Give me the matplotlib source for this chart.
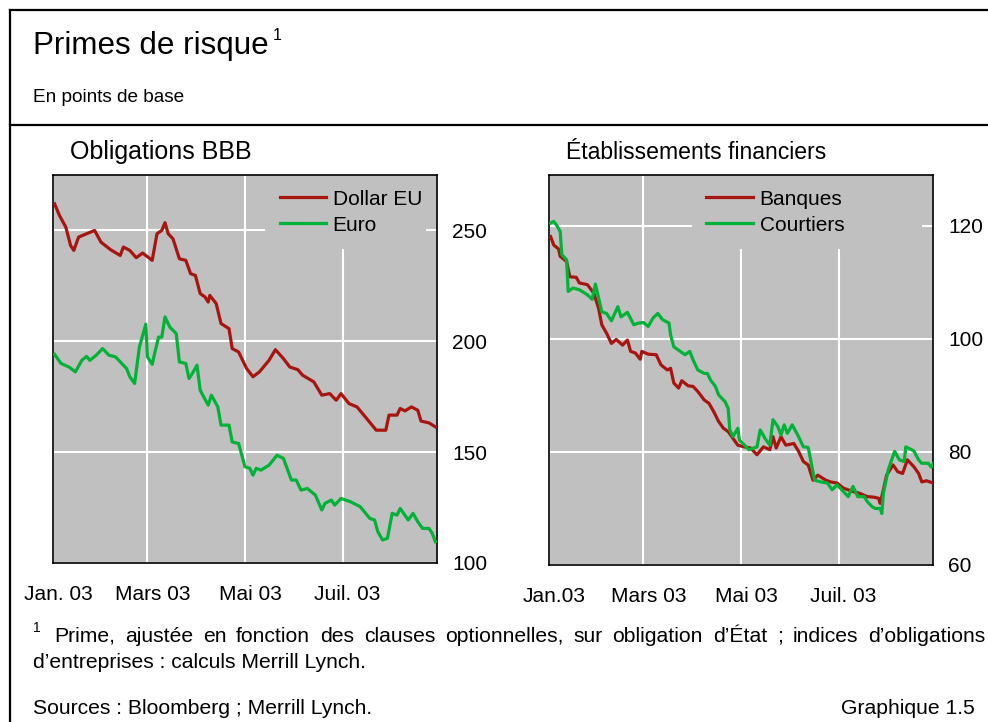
import numpy as np
import matplotlib
matplotlib.use("Agg")
import matplotlib.pyplot as plt
from matplotlib.lines import Line2D
from matplotlib.transforms import ScaledTranslation

plt.rcParams['font.family'] = ['Liberation Sans', 'DejaVu Sans']

# days counted from 1 Jan 2003
usd_days = [1, 4, 8, 11, 13, 16, 21, 26, 30, 36, 42, 44, 48, 52, 56, 62, 65, 68, 70, 72,
            75, 79, 83, 86, 89, 92, 95, 97, 98, 102, 105, 110, 112, 116, 121, 125, 129, 135, 139, 144,
            148, 153, 156, 163, 168, 173, 177, 180, 185, 190, 196, 202, 208, 210, 215, 217, 220, 224, 228, 230,
            235, 239]
usd_vals = [262.0, 256.8, 251.5, 243.2, 241.0, 247.0, 248.5, 250.0, 244.7, 241.3,
            238.7, 242.5, 241.0, 237.7, 239.8, 236.5, 248.5, 250.0, 253.5, 248.5,
            246.2, 237.2, 236.5, 230.5, 229.7, 221.5, 220.0, 217.7, 220.7, 217.0,
            208.0, 205.7, 196.7, 195.2, 187.7, 184.0, 186.2, 191.4, 196.2, 192.2,
            188.4, 187.2, 184.7, 181.7, 175.7, 176.4, 173.4, 176.4, 171.9, 170.4,
            165.2, 159.9, 159.9, 166.7, 166.7, 169.7, 168.6, 170.4, 168.9, 164.0,
            163.2, 161.4]

eur_days = [1, 5, 10, 14, 18, 21, 23, 27, 31, 35, 39, 43, 46, 48, 51, 54, 58, 59, 62, 64,
            66, 68, 70, 73, 77, 79, 83, 85, 87, 90, 92, 97, 99, 103, 105, 110, 112, 116, 120, 123,
            125, 127, 130, 135, 140, 144, 149, 152, 155, 159, 164, 168, 170, 174, 176, 180, 186, 192, 198, 201,
            203, 206, 209, 212, 215, 217, 222, 225, 228, 231, 235, 237, 239]
eur_vals = [194.1, 190.0, 188.4, 186.2, 191.4, 193.2, 191.4, 193.7, 196.7, 193.7,
            193.0, 190.0, 187.7, 184.0, 181.0, 197.4, 207.7, 193.0, 189.6, 196.0,
            201.9, 201.9, 211.0, 206.4, 203.5, 190.7, 190.0, 183.2, 185.4, 189.2,
            177.9, 171.2, 175.7, 170.4, 162.2, 162.2, 154.6, 153.9, 143.4, 142.7,
            139.6, 142.7, 141.9, 144.1, 148.6, 147.2, 137.4, 137.4, 132.9, 133.6,
            130.6, 123.9, 126.9, 128.4, 126.1, 129.1, 127.6, 125.4, 120.1, 119.4,
            114.1, 110.4, 111.1, 122.4, 121.6, 124.6, 119.4, 122.4, 118.6, 115.6,
            115.6, 113.4, 109.6]

bank_days = [1, 3, 6, 7, 11, 13, 17, 19, 24, 28, 31, 33, 36, 39, 42, 46, 49, 51, 54, 57,
             58, 62, 67, 70, 74, 76, 78, 81, 83, 87, 90, 93, 97, 100, 103, 106, 109, 112, 115, 118,
             122, 126, 130, 134, 138, 140, 142, 145, 148, 153, 156, 159, 162, 165, 168, 173, 176, 180, 184, 187,
             190, 194, 199, 203, 206, 207, 209, 211, 215, 218, 221, 224, 228, 231, 233, 236, 240]
bank_vals = [118.1, 116.6, 115.9, 114.6, 113.7, 111.0, 110.9, 109.9, 109.6, 108.1,
             105.4, 102.5, 101.0, 99.2, 99.9, 98.9, 99.8, 97.8, 97.5, 96.4,
             97.8, 97.3, 97.2, 95.4, 94.5, 94.8, 92.2, 91.3, 92.6, 91.7,
             91.6, 90.7, 89.2, 88.6, 87.1, 85.4, 84.2, 83.6, 82.4, 81.2,
             80.9, 80.7, 79.5, 80.9, 80.4, 82.7, 80.7, 82.7, 81.2, 81.5,
             80.1, 78.3, 77.7, 75.0, 75.9, 75.0, 74.7, 74.5, 73.6, 73.3,
             73.0, 72.7, 72.1, 72.0, 71.8, 70.9, 73.3, 75.9, 77.7, 76.5,
             76.2, 78.6, 77.4, 76.2, 74.7, 74.9, 74.5]

brok_days = [1, 3, 5, 7, 8, 11, 12, 15, 19, 24, 27, 29, 33, 36, 39, 43, 45, 49, 53, 56,
             59, 62, 65, 68, 71, 75, 76, 78, 82, 85, 88, 90, 93, 97, 99, 101, 104, 106, 110, 112,
             113, 115, 118, 119, 125, 130, 132, 135, 138, 140, 143, 145, 147, 149, 152, 156, 159, 162, 166, 170,
             174, 177, 180, 184, 187, 190, 193, 197, 199, 202, 204, 207, 208, 209, 212, 216, 219, 222, 223, 228,
             231, 233, 237, 239, 240]
brok_vals = [120.5, 120.8, 120.0, 119.0, 114.9, 114.0, 108.4, 109.0, 108.7, 107.8,
             107.0, 109.7, 104.8, 104.5, 103.2, 105.7, 103.9, 104.7, 102.5, 102.8,
             102.9, 102.2, 103.7, 104.5, 103.4, 102.8, 100.7, 98.6, 97.8, 97.2,
             97.8, 96.3, 94.5, 93.9, 93.9, 92.7, 91.6, 90.1, 88.9, 87.7,
             83.9, 82.7, 84.2, 82.1, 80.4, 80.9, 83.9, 82.4, 81.2, 85.7,
             84.5, 83.0, 84.8, 83.3, 84.8, 82.7, 80.9, 80.8, 75.0, 74.7,
             74.5, 73.3, 74.2, 73.0, 72.1, 73.9, 72.1, 72.1, 71.2, 70.3,
             70.0, 70.0, 69.1, 72.7, 76.8, 80.1, 78.6, 78.3, 80.9, 80.2,
             78.6, 78.0, 78.0, 77.3, 77.9]

month_ticks = ['2003-01-01', '2003-03-01', '2003-05-01', '2003-07-01']
left_xlabels = ['Jan. 03', 'Mars 03', 'Mai 03', 'Juil. 03']
right_xlabels = ['Jan.03', 'Mars 03', 'Mai 03', 'Juil. 03']
left_yticks = [100, 150, 200, 250]
right_yticks = [60, 80, 100, 120]

RED = '#a8150f'
GREEN = '#00b336'
BG = '#c0c0c0'
start = np.datetime64('2003-01-01')


def to_dates(days):
    return start + np.array(days).astype('timedelta64[D]')


def panel(ax, series, xlabels, yticks, ylim, title, tsize, leg_box):
    for days, vals, col, lab in series:
        ax.plot(to_dates(days), vals, color=col, lw=2.3, label=lab, zorder=3)
    ax.set_facecolor(BG)
    ax.set_xlim(start, start + np.timedelta64(240, 'D'))
    ax.set_ylim(*ylim)
    ax.set_xticks([np.datetime64(m) for m in month_ticks])
    ax.set_xticklabels(xlabels)
    ax.set_yticks(yticks)
    ax.yaxis.tick_right()
    ax.tick_params(axis='both', length=0, labelsize=15)
    ax.tick_params(axis='y', pad=11)
    ax.tick_params(axis='x', pad=16)
    shift = ScaledTranslation(5 / 100, 0, fig.dpi_scale_trans)
    for lab in ax.get_xticklabels():
        lab.set_transform(lab.get_transform() + shift)
    ax.grid(True, color='white', lw=1.5, zorder=1)
    ax.set_axisbelow(True)
    for s in ax.spines.values():
        s.set_linewidth(1.2)
    leg = ax.legend(loc='upper left', bbox_to_anchor=leg_box, mode='expand',
                    fontsize=15, frameon=True, facecolor=BG, edgecolor='none',
                    framealpha=1, fancybox=False, handlelength=2.25,
                    handletextpad=0.3, labelspacing=0.34, borderpad=0.7,
                    borderaxespad=0)
    leg.set_zorder(2)
    ax.text(0.045, 1.058, title, transform=ax.transAxes, fontsize=tsize, va='center')


def justified(fig, text, x0, x1, y, size):
    words = text.split(' ')
    objs = [fig.text(0, y, w, fontsize=size, va='center') for w in words]
    r = fig.canvas.get_renderer()
    widths = [o.get_window_extent(r).width for o in objs]
    gap = (x1 - x0 - sum(widths)) / (len(words) - 1)
    x = x0
    for o, w in zip(objs, widths):
        o.set_x(x / 988)
        x += w + gap


fig = plt.figure(figsize=(9.88, 7.22), dpi=100)
ax1 = fig.add_axes([53 / 988, 1 - 563 / 722, 384 / 988, 388 / 722])
ax2 = fig.add_axes([549 / 988, 1 - 565 / 722, 384 / 988, 390 / 722])

panel(ax1, [(usd_days, usd_vals, RED, 'Dollar EU'), (eur_days, eur_vals, GREEN, 'Euro')],
      left_xlabels, left_yticks, (100, 275), 'Obligations BBB', 18, (0.552, 1.0, 0.42, 0.0))
panel(ax2, [(bank_days, bank_vals, RED, 'Banques'), (brok_days, brok_vals, GREEN, 'Courtiers')],
      right_xlabels, right_yticks, (60, 129), 'Établissements financiers', 16.6, (0.372, 1.0, 0.60, 0.0))

# frame lines
for xs, ys in [([10, 988], [10, 10]), ([10, 988], [125, 125]), ([10, 10], [10, 722])]:
    fig.add_artist(Line2D([x / 988 for x in xs], [1 - y / 722 for y in ys], color='black', lw=1.6))

fig.text(33 / 988, 1 - 46 / 722, 'Primes de risque', fontsize=22.6, va='center')
fig.text(273 / 988, 1 - 35 / 722, '1', fontsize=11.5, va='center')
fig.text(33 / 988, 1 - 98 / 722, 'En points de base', fontsize=13.7, va='center')

fig.text(33 / 988, 1 - 628 / 722, '1', fontsize=10, va='center')
justified(fig, 'Prime, ajustée en fonction des clauses optionnelles, sur obligation d’État ; indices d’obligations',
          54, 985, 1 - 636 / 722, 15.2)
fig.text(33 / 988, 1 - 663 / 722, 'd’entreprises : calculs Merrill Lynch.', fontsize=15.2, va='center')
fig.text(33 / 988, 1 - 709 / 722, 'Sources : Bloomberg ; Merrill Lynch.', fontsize=15.2, va='center')
fig.text(975 / 988, 1 - 709 / 722, 'Graphique 1.5', fontsize=15.2, va='center', ha='right')

fig.savefig('out.png', dpi=100)
